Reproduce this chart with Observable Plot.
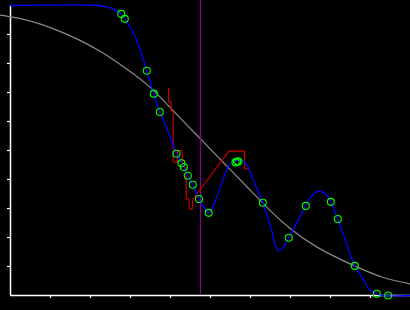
<!DOCTYPE html>
<html>
<head>
<meta charset="utf-8">
<script src="https://cdn.jsdelivr.net/npm/d3@7"></script>
<script src="https://cdn.jsdelivr.net/npm/@observablehq/plot@0.6"></script>
<style>
  html, body { margin: 0; padding: 0; background: #000; }
  #chart { width: 410px; height: 310px; }
</style>
</head>
<body>
<div id="chart"></div>
<script>
// Tick positions (no labels shown in the reference)
const xTicks = [1, 2, 3, 4, 5, 6, 7, 8, 9];
const yTicks = [0.1, 0.2, 0.3, 0.4, 0.5, 0.6, 0.7, 0.8, 0.9];

// Gray smooth reference curve
const grayX = [-0.25, 0.25, 0.75, 1.25, 1.75, 2.25, 2.875, 3.5, 4.125, 4.75, 5.375, 6.0, 6.5, 7.0, 7.675, 8.6, 9.325, 10];
const grayY = [0.967, 0.955, 0.936, 0.910, 0.879, 0.841, 0.784, 0.717, 0.629, 0.540, 0.451, 0.362, 0.292, 0.230, 0.166, 0.102, 0.062, 0.040];

// Blue interpolated curve
const blueX = [0, 2.175, 2.425, 2.6, 2.7675, 2.8575, 3.0825, 3.25, 3.4075, 3.5825, 3.7325, 3.95, 4.15, 4.275, 4.4325, 4.5575, 4.7125, 4.825, 4.955, 5.125, 5.2925, 5.4575, 5.5825, 5.7, 5.8, 5.9, 6.0, 6.125, 6.3075, 6.4175, 6.5425, 6.625, 6.7075, 6.7925, 6.875, 6.9575, 7.1675, 7.3825, 7.5, 7.7075, 7.875, 8.0075, 8.1825, 8.4175, 8.6075, 8.8325, 9.0, 9.1575, 9.3, 10];
const blueY = [1.0, 1.0, 0.994, 0.986, 0.971, 0.954, 0.902, 0.845, 0.775, 0.696, 0.633, 0.562, 0.489, 0.456, 0.413, 0.382, 0.333, 0.307, 0.285, 0.328, 0.391, 0.448, 0.462, 0.466, 0.464, 0.452, 0.425, 0.379, 0.320, 0.276, 0.218, 0.172, 0.153, 0.161, 0.178, 0.199, 0.253, 0.309, 0.339, 0.360, 0.351, 0.323, 0.264, 0.172, 0.102, 0.052, 0.017, 0.006, 0.0, 0.0];

// Green sample points
const ptX = [2.7675, 2.8575, 3.4075, 3.5825, 3.7325, 4.15, 4.275, 4.3325, 4.4325, 4.5575, 4.7125, 4.955, 5.625, 5.6625, 5.7, 6.3075, 6.9575, 7.3825, 8.0075, 8.1825, 8.6075, 9.1575, 9.4425];
const ptY = [0.971, 0.954, 0.775, 0.696, 0.633, 0.489, 0.456, 0.443, 0.413, 0.382, 0.333, 0.285, 0.459, 0.462, 0.462, 0.320, 0.199, 0.309, 0.323, 0.264, 0.102, 0.006, 0.0];

// Red step-like path
const redX = [3.95, 3.95, 4.017, 4.017, 4.067, 4.067, 4.175, 4.175, 4.2925, 4.2925, 4.3925, 4.3925, 4.4575, 4.475, 4.5425, 4.5575, 5.4575, 5.85, 5.85, 5.95];
const redY = [0.714, 0.669, 0.669, 0.638, 0.634, 0.460, 0.460, 0.5, 0.5, 0.448, 0.438, 0.333, 0.333, 0.299, 0.299, 0.331, 0.498, 0.498, 0.437, 0.437];

// Vertical marker
const markerX = 4.75;

const gray = grayX.map((x, i) => ({x, y: grayY[i]}));
const blue = blueX.map((x, i) => ({x, y: blueY[i]}));
const pts = ptX.map((x, i) => ({x, y: ptY[i]}));
const red = redX.map((x, i) => ({x, y: redY[i]}));

const chart = Plot.plot({
  width: 410,
  height: 310,
  marginLeft: 10,
  marginRight: 0,
  marginTop: 5,
  marginBottom: 15,
  style: {background: "#000", color: "#fff"},
  x: {domain: [0, 10]},
  y: {domain: [0, 1]},
  marks: [
    Plot.axisX(xTicks, {tickSize: 3, tickFormat: () => "", stroke: "#fff", strokeWidth: 1.2, label: null}),
    Plot.axisY(yTicks, {tickSize: 3, tickFormat: () => "", stroke: "#fff", strokeWidth: 1.2, label: null}),
    Plot.ruleY([0], {stroke: "#fff", strokeWidth: 1.5}),
    Plot.ruleX([0], {y1: 0, y2: 1, stroke: "#fff", strokeWidth: 1.5}),
    Plot.line(gray, {x: "x", y: "y", stroke: "#8c8c8c", strokeWidth: 1.2, curve: "natural"}),
    Plot.ruleX([markerX], {y1: 0, y2: 1.0172, stroke: "#8a0096", strokeWidth: 1.2}),
    Plot.line(red, {x: "x", y: "y", stroke: "#c80000", strokeWidth: 1.2}),
    Plot.line(blue, {x: "x", y: "y", stroke: "#0000ff", strokeWidth: 1.3, curve: "catmull-rom"}),
    Plot.dot(pts, {x: "x", y: "y", r: 3.5, stroke: "#00ff00", strokeWidth: 1.1, fill: "none"}),
    Plot.dot(pts, {x: "x", y: "y", r: 0.6, fill: "#000", stroke: "none"})
  ]
});
document.getElementById("chart").appendChild(chart);
</script>
</body>
</html>
